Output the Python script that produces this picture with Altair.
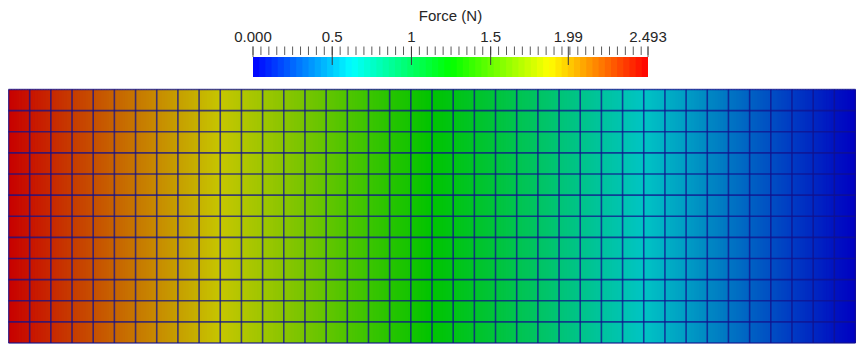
import altair as alt
import pandas as pd

# ---- data ----
# Force (N) at each of the 41 mesh node columns, left to right
force_nodes = [2.493, 2.431, 2.368, 2.306, 2.244, 2.181, 2.119, 2.057, 1.994, 1.932,
               1.870, 1.807, 1.745, 1.683, 1.620, 1.558, 1.496, 1.433, 1.371, 1.309,
               1.246, 1.184, 1.122, 1.060, 0.997, 0.935, 0.873, 0.810, 0.748, 0.686,
               0.623, 0.561, 0.499, 0.436, 0.374, 0.312, 0.249, 0.187, 0.125, 0.062,
               0.000]
n_rows = 12
force_min, force_max = 0.0, 2.493
cbar_label_values = [0.0, 0.5, 1.0, 1.5, 1.99, 2.493]
cbar_label_texts = ["0.000", "0.5", "1", "1.5", "1.99", "2.493"]
cbar_major_inner = [0.5, 1.0, 1.5, 1.99]
cbar_minor_step = 0.05
title_text = "Force (N)"

cmap_bright = ["#0000ff", "#00ffff", "#00ff00", "#ffff00", "#ff0000"]
cmap_shaded = ["#0000c2", "#00c4c4", "#00c400", "#c6c600", "#c80000"]

# ---- tables built from the data ----
n_cols = len(force_nodes) - 1
sub = 8
mesh_rows = []
for i in range(n_cols):
    a, b = force_nodes[i], force_nodes[i + 1]
    for j in range(sub):
        t0, t1 = j / sub, (j + 1) / sub
        mesh_rows.append({"x0": i + t0, "x1": i + t1 + 0.04,
                          "y0": 0, "y1": n_rows,
                          "f": a + (b - a) * (t0 + t1) / 2})
mesh_df = pd.DataFrame(mesh_rows)

vlines = pd.DataFrame({"c": list(range(n_cols + 1))})
hlines = pd.DataFrame({"r": list(range(n_rows + 1))})

n_bands = 64
bw = (force_max - force_min) / n_bands
cbar_df = pd.DataFrame({
    "v0": [force_min + k * bw for k in range(n_bands)],
    "v1": [force_min + (k + 1) * bw + bw * 0.15 if k < n_bands - 1 else force_max for k in range(n_bands)],
    "v": [force_min + (k + 0.5) * bw for k in range(n_bands)],
})
minor_vals = []
k = 0
while k * cbar_minor_step < force_max - 1e-9:
    minor_vals.append(round(k * cbar_minor_step, 4))
    k += 1
minor_vals.append(force_max)
minor_df = pd.DataFrame({"v": minor_vals})
ends_df = pd.DataFrame({"v": [force_min, force_max]})
major_df = pd.DataFrame({"v": cbar_major_inner})
labels_df = pd.DataFrame({"v": cbar_label_values, "t": cbar_label_texts})
title_df = pd.DataFrame({"t": [title_text], "v": [(force_min + force_max) / 2]})

# ---- layout (plot-area pixels) ----
W, H = 848, 336
mesh_left, mesh_right = 0.5, 847.5
mesh_top, mesh_bottom = 81.5, 335.0

# ---- scales ----
stops = [force_min + (force_max - force_min) * q for q in (0, 0.25, 0.5, 0.75, 1)]
mx = alt.Scale(domain=[0, n_cols], range=[mesh_left, mesh_right], nice=False, zero=False)
my = alt.Scale(domain=[0, n_rows], range=[mesh_top, mesh_bottom], nice=False, zero=False)
cx = alt.Scale(domain=[force_min, force_max], range=[245, 640], nice=False, zero=False)
c_shaded = alt.Scale(domain=stops, range=cmap_shaded, interpolate="rgb")
c_bright = alt.Scale(domain=stops, range=cmap_bright, interpolate="rgb")

mesh = alt.Chart(mesh_df).mark_rect(strokeWidth=0).encode(
    x=alt.X("x0:Q", scale=mx, axis=None),
    x2="x1:Q",
    y=alt.Y("y0:Q", scale=my, axis=None),
    y2="y1:Q",
    color=alt.Color("f:Q", scale=c_shaded, legend=None),
)

edge_color = "#12128c"
vgrid = alt.Chart(vlines).mark_rule(color=edge_color, strokeWidth=1.6, opacity=0.75).encode(
    x=alt.X("c:Q", scale=mx, axis=None),
    y=alt.value(mesh_top),
    y2=alt.value(mesh_bottom),
)
hgrid = alt.Chart(hlines).mark_rule(color=edge_color, strokeWidth=1.6, opacity=0.75).encode(
    y=alt.Y("r:Q", scale=my, axis=None),
    x=alt.value(mesh_left),
    x2=alt.value(mesh_right),
)

cbar = alt.Chart(cbar_df).mark_rect(strokeWidth=0).encode(
    x=alt.X("v0:Q", scale=cx, axis=None),
    x2="v1:Q",
    y=alt.value(49),
    y2=alt.value(69),
    color=alt.Color("v:Q", scale=c_bright, legend=None),
)
minor = alt.Chart(minor_df).mark_rule(color="#5a5a5a", strokeWidth=1).encode(
    x=alt.X("v:Q", scale=cx, axis=None),
    y=alt.value(38.5),
    y2=alt.value(47),
)
ends = alt.Chart(ends_df).mark_rule(color="#5a5a5a", strokeWidth=1).encode(
    x=alt.X("v:Q", scale=cx, axis=None),
    y=alt.value(38.5),
    y2=alt.value(49),
)
major = alt.Chart(major_df).mark_rule(color="#3a3a3a", strokeWidth=1).encode(
    x=alt.X("v:Q", scale=cx, axis=None),
    y=alt.value(38.5),
    y2=alt.value(57),
)
labels = alt.Chart(labels_df).mark_text(
    font="Liberation Sans", fontSize=15, color="#262626", baseline="alphabetic", align="center"
).encode(
    x=alt.X("v:Q", scale=cx, axis=None),
    y=alt.value(33.7),
    text="t:N",
)
title = alt.Chart(title_df).mark_text(
    font="Liberation Sans", fontSize=15, color="#262626", baseline="alphabetic", align="center"
).encode(
    x=alt.X("v:Q", scale=cx, axis=None),
    y=alt.value(12.5),
    text="t:N",
)

chart = alt.layer(
    mesh, vgrid, hgrid, cbar, minor, ends, major, labels, title
).resolve_scale(
    x="independent", y="independent", color="independent"
).properties(
    width=W, height=H, padding=0, autosize=alt.AutoSizeParams(type="none")
).configure_view(stroke=None)

chart.save("out.html", embed_options={"renderer": "svg", "actions": False})
